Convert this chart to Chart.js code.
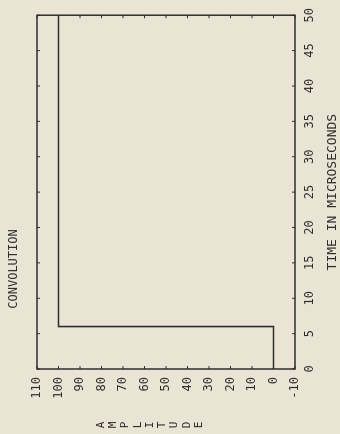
<!DOCTYPE html>
<html>
<head>
<meta charset="utf-8">
<script src="https://cdn.jsdelivr.net/npm/chart.js@4"></script>
<style>
  html, body { margin: 0; padding: 0; background: #e9e4d4; }
  body { width: 340px; height: 434px; overflow: hidden; position: relative; }
  /* the plot was printed sideways, so draw it upright and turn the whole canvas */
  #wrap { position: absolute; left: 0; top: 0; width: 434px; height: 340px;
          transform-origin: 0 0; transform: translate(0, 434px) rotate(-90deg); }
</style>
</head>
<body>
<div id="wrap"><canvas id="convChart" width="434" height="340"></canvas></div>
<script>
const chartTitle = 'CONVOLUTION';
const xTitle = 'TIME IN MICROSECONDS';
const yTitle = 'AMPLITUDE';

// step response
const timeUs = [0, 6, 6, 50];
const amplitude = [0, 0, 100, 100];

const timeMin = 0, timeMax = 50, timeStep = 5;
const ampMin = -10, ampMax = 110, ampStep = 10;

const ink = '#2e2e2e';
const monoFont = '"DejaVu Sans Mono", monospace';

// frame, inward tick marks on all four sides, title and stacked axis label
const framePlugin = {
    id: 'frame',
    afterDraw(chart) {
        const { ctx, chartArea: a, scales: { x, y } } = chart;
        ctx.save();
        ctx.strokeStyle = ink;
        ctx.lineWidth = 1.5;
        ctx.strokeRect(a.left, a.top, a.right - a.left, a.bottom - a.top);

        ctx.lineWidth = 1;
        ctx.beginPath();
        x.ticks.forEach(t => {
            const px = x.getPixelForValue(t.value);
            ctx.moveTo(px, a.bottom); ctx.lineTo(px, a.bottom - 3);
            ctx.moveTo(px, a.top); ctx.lineTo(px, a.top + 3);
        });
        y.ticks.forEach(t => {
            const py = y.getPixelForValue(t.value);
            ctx.moveTo(a.left, py); ctx.lineTo(a.left + 3, py);
            ctx.moveTo(a.right, py); ctx.lineTo(a.right - 3, py);
        });
        ctx.stroke();

        ctx.fillStyle = ink;
        ctx.textAlign = 'center';
        ctx.textBaseline = 'middle';
        ctx.font = '12px ' + monoFont;
        ctx.fillText(chartTitle, 165, 14);

        ctx.font = '11px ' + monoFont;
        yTitle.split('').forEach((ch, i) => {
            ctx.fillText(ch, 9, 101 + i * 12.25);
        });
        ctx.restore();
    }
};

const ctx = document.getElementById('convChart').getContext('2d');

new Chart(ctx, {
    type: 'scatter',
    data: {
        datasets: [{
            data: timeUs.map((t, i) => ({ x: t, y: amplitude[i] })),
            showLine: true,
            borderColor: ink,
            borderWidth: 1.6,
            pointRadius: 0,
            tension: 0
        }]
    },
    options: {
        responsive: false,
        animation: false,
        layout: { padding: { top: 37, right: 13, left: 0, bottom: 0 } },
        plugins: {
            legend: { display: false },
            tooltip: { enabled: false }
        },
        scales: {
            x: {
                type: 'linear',
                min: timeMin,
                max: timeMax,
                grid: { display: false, drawTicks: false },
                border: { display: false },
                ticks: {
                    stepSize: timeStep,
                    padding: 8,
                    color: ink,
                    font: { family: monoFont, size: 12 }
                },
                title: {
                    display: true,
                    text: xTitle,
                    color: ink,
                    padding: 0,
                    font: { family: monoFont, size: 13 }
                },
                afterFit: s => { s.height = 45; }
            },
            y: {
                type: 'linear',
                min: ampMin,
                max: ampMax,
                grid: { display: false, drawTicks: false },
                border: { display: false },
                ticks: {
                    stepSize: ampStep,
                    padding: 8,
                    color: ink,
                    font: { family: monoFont, size: 12 }
                },
                afterFit: s => { s.width = 65; }
            }
        }
    },
    plugins: [framePlugin]
});
</script>
</body>
</html>
